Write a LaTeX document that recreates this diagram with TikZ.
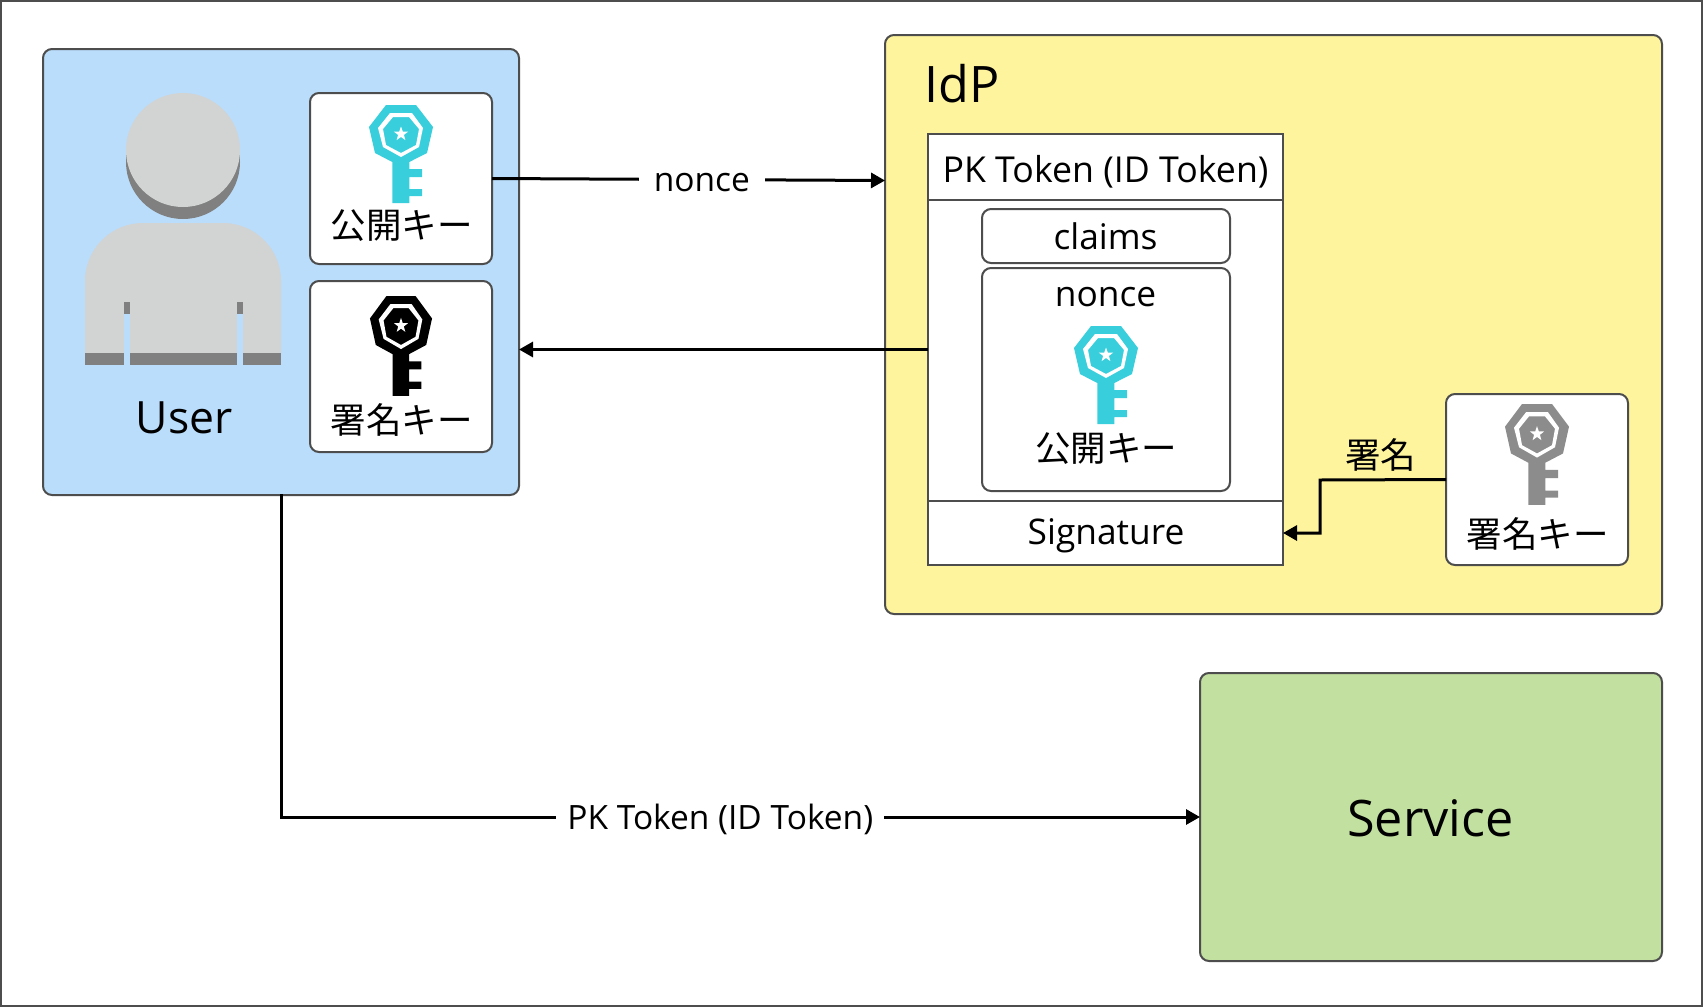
\documentclass[tikz,border=0pt]{standalone}
\usepackage{fontspec}
\setmainfont{Open Sans}
\newfontfamily\cjk{Noto Sans CJK JP}
\usetikzlibrary{arrows.meta}
\definecolor{userblue}{HTML}{BADDFB}
\definecolor{idpyellow}{HTML}{FFF49E}
\definecolor{svcgreen}{HTML}{C2E0A0}
\definecolor{edge}{HTML}{4D4D4D}
\definecolor{keycyan}{HTML}{38CEDC}
\definecolor{keygrey}{HTML}{8C8C8C}
\definecolor{figlight}{HTML}{D2D3D3}
\definecolor{figdark}{HTML}{808080}
\tikzset{
  panel/.style={draw=edge,line width=2pt,rounded corners=9pt,anchor=north west,inner sep=0pt,outer sep=0pt},
  cell/.style={draw=edge,line width=2pt,fill=white,anchor=north west,inner sep=0pt,outer sep=0pt},
  txt/.style={inner sep=0pt,text=black,font=\fontsize{35.3}{40}\selectfont},
  big/.style={inner sep=0pt,text=black,font=\fontsize{50.3}{60}\selectfont},
  jp/.style={inner sep=0pt,text=black,font=\fontsize{35.5}{40}\selectfont\cjk},
  wire/.style={draw=black,line width=3pt,-{Triangle[length=14pt,width=15pt]}},
  wirelabel/.style={fill=white,inner xsep=15pt,inner ysep=4pt,text=black,yshift=-3pt,font=\fontsize{33.5}{40}\selectfont},
  keyicon/.pic={
    \fill[pic actions] (-15,0)--(15,0)--(32,22)--(26,48)--(8.3,57)--(8.3,64)--(21,64)--(21,72)--(8.3,72)--(8.3,84)--(21,84)--(21,91)--(8.3,91)--(8.3,98)--(-8.7,98)--(-8.7,57)--(-26,48)--(-32,22)--cycle;
    \fill[white,even odd rule] (-11,8)--(11,8)--(22,23)--(18,42)--(0,52)--(-18,42)--(-23,23)--cycle
      (-8,12)--(8,12)--(18,24)--(15,40)--(0,48)--(-15,40)--(-18,24)--cycle;
    \fill[white,shift={(0,29)}] (0,-7.5)--(1.8,-2.4)--(7.1,-2.3)--(2.9,0.9)--(4.4,6.1)--(0,3)--(-4.4,6.1)--(-2.9,0.9)--(-7.1,-2.3)--(-1.8,-2.4)--cycle;
  }
}
\begin{document}
\begin{tikzpicture}[x=1pt,y=-1pt]
\useasboundingbox (0,0) rectangle (1703,1007);
\fill[white] (0,0) rectangle (1703,1007);
\draw[edge,line width=2pt] (1,1) rectangle (1702,1006);

% panels
\node[panel,fill=userblue,minimum width=476pt,minimum height=446pt] (user) at (43,49) {};
\node[panel,fill=idpyellow,minimum width=777pt,minimum height=579pt] (idp) at (885,35) {};
\node[panel,fill=svcgreen,minimum width=462pt,minimum height=288pt] (service) at (1200,673) {};
\node[big] (servicetext) at (1430.5,818) {Service};
\node[big,anchor=base west] (idptext) at (924,102) {IdP};

% user figure
\fill[figdark] (183,162) circle (57);
\fill[figdark] (126,150) rectangle (240,162);
\fill[figlight] (183,150) circle (57);
\fill[figlight] (85,353) -- (85,281) arc[start angle=180,end angle=270,radius=58] -- (223,223) arc[start angle=-90,end angle=0,radius=58] -- (281,353) -- cycle;
\fill[figdark] (85,353) rectangle (281,365);
\fill[figdark] (124,302) rectangle (130,314);
\fill[figdark] (237,302) rectangle (243,314);
\fill[userblue] (124,314) rectangle (130,365);
\fill[userblue] (237,314) rectangle (243,365);
\node[txt,font=\fontsize{44.5}{54}\selectfont,anchor=base] (usertext) at (184,433.5) {User};

% user keys
\node[panel,fill=white,minimum width=182pt,minimum height=171pt] (pubkey) at (310,93) {};
\pic[fill=keycyan] at (401,105) {keyicon};
\node[jp] (pubtext) at (401.5,226) {公開キー};
\node[panel,fill=white,minimum width=182pt,minimum height=171pt] (signkey) at (310,281) {};
\pic[fill=black,xscale=0.97,yscale=1.02] at (401,296) {keyicon};
\node[jp] (signtext) at (401.5,420) {署名キー};

% token table
\node[cell,minimum width=355pt,minimum height=431pt] (table) at (928,134) {};
\node[cell,minimum width=355pt,minimum height=66pt] (head) at (928,134) {};
\node[cell,minimum width=355pt,minimum height=64pt] (sig) at (928,501) {};
\node[txt,font=\fontsize{35.7}{40}\selectfont] (headtext) at (1105.5,172) {PK Token (ID Token)};
\node[txt] (sigtext) at (1106,536) {Signature};
\node[panel,fill=white,minimum width=248pt,minimum height=54pt] (claims) at (982,209) {};
\node[txt] (claimstext) at (1105.5,236.5) {claims};
\node[panel,fill=white,minimum width=248pt,minimum height=223pt] (noncebox) at (982,268) {};
\node[txt] (noncetext) at (1105.5,297) {nonce};
\pic[fill=keycyan] at (1106,326) {keyicon};
\node[jp] (pub2text) at (1106,448.5) {公開キー};

% IdP key
\node[panel,fill=white,minimum width=182pt,minimum height=171pt] (idpkey) at (1446,394) {};
\pic[fill=keygrey,yscale=1.03] at (1537,404) {keyicon};
\node[jp] (idpkeytext) at (1537.5,534) {署名キー};

% connectors
\draw[wire] (pubkey.east) -- node[wirelabel,pos=0.534] (noncelabel) {nonce} ([yshift=-2pt]pubkey.east -| idp.west);
\draw[wire] (table.west) -- (table.west -| user.east);
\coordinate (bendtop) at (1320,480);
\coordinate (bendbot) at (bendtop |- sig.east);
\draw[wire] (idpkey.west) -- (bendtop) -- (bendbot) -- (sig.east);
\node[jp] (signlabel) at (1380.5,455) {署名};
\coordinate (bendleft) at (user.south |- service.west);
\draw[line width=3pt,line cap=rect] (user.south) -- (bendleft);
\draw[wire] (bendleft) -- node[wirelabel,pos=0.478,inner xsep=11pt,yshift=1pt] (pklabel) {PK Token (ID Token)} (service.west);
\end{tikzpicture}
\end{document}
